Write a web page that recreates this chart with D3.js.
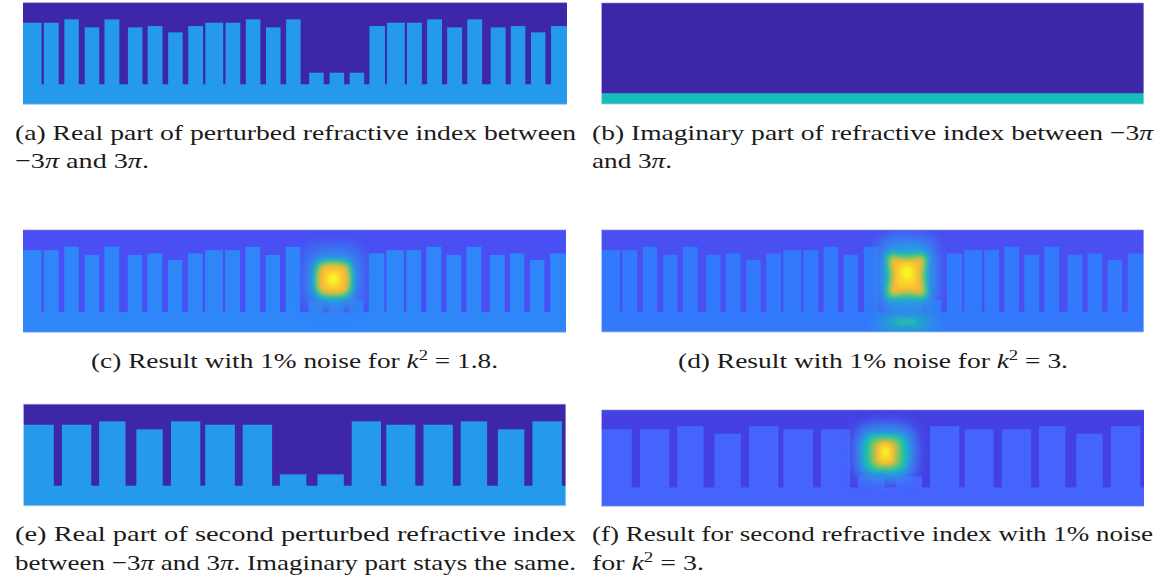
<!DOCTYPE html>
<html>
<head>
<meta charset="utf-8">
<script src="https://d3js.org/d3.v7.min.js"></script>
<style>
  html, body { margin: 0; background: #fff; }
  svg { display: block; }
  text { font-family: "Liberation Serif", serif; font-size: 22px; fill: #1a1a1a; }
</style>
</head>
<body>
<svg id="chart" width="1166" height="580"></svg>
<script>
// x is in units of pi (-3 to 3), y is the fraction of the panel height from the bottom
var grating1Left  = [-3, -2.77, -2.544, -2.319, -2.101, -1.843, -1.625, -1.399, -1.178, -0.989, -0.767, -0.542, -0.32, -0.098, 0.156, 0.382, 0.603, 0.821, 1.014, 1.235, 1.457, 1.678, 1.9, 2.158, 2.38, 2.602, 2.824];
var grating1Right = [-2.795, -2.606, -2.384, -2.159, -1.937, -1.683, -1.461, -1.239, -1.014, -0.792, -0.603, -0.382, -0.16, 0.062, 0.316, 0.542, 0.763, 0.993, 1.211, 1.399, 1.621, 1.843, 2.064, 2.323, 2.54, 2.762, 3];
var grating1Top   = [0.803, 0.803, 0.836, 0.757, 0.836, 0.757, 0.77, 0.708, 0.77, 0.803, 0.803, 0.836, 0.757, 0.836, 0.311, 0.311, 0.311, 0.77, 0.803, 0.803, 0.836, 0.757, 0.836, 0.757, 0.77, 0.708, 0.77];

var grating2Left  = [-3, -2.576, -2.164, -1.752, -1.369, -0.99, -0.575, -0.163, 0.253, 0.632, 1.015, 1.427, 1.839, 2.25, 2.633];
var grating2Right = [-2.666, -2.251, -1.872, -1.46, -1.044, -0.661, -0.249, 0.13, 0.545, 0.957, 1.336, 1.752, 2.131, 2.543, 2.959];
var grating2Top   = [0.799, 0.799, 0.832, 0.753, 0.832, 0.799, 0.799, 0.309, 0.309, 0.832, 0.799, 0.799, 0.832, 0.753, 0.832];

var baseTop = 0.197;

// blob rings: [colour, centre x, centre y, half width, half height, waist]
var blobC = [
  ["#3a78f4", 0.43, 0.53, 0.37, 0.36, 1.0],
  ["#2c9ce0", 0.43, 0.52, 0.26, 0.25, 1.0],
  ["#19bdb4", 0.43, 0.52, 0.225, 0.195, 1.0],
  ["#7cc660", 0.43, 0.52, 0.19, 0.165, 1.0],
  ["#f5b83a", 0.43, 0.52, 0.165, 0.145, 1.0],
  ["#fbd42c", 0.43, 0.52, 0.1, 0.095, 1.0],
  ["#f9f820", 0.43, 0.52, 0.05, 0.05, 1.0]
];
var blobD = [
  ["#3a7ef4", 0.38, 0.55, 0.38, 0.44, 1.0],
  ["#2c9ce0", 0.38, 0.55, 0.29, 0.33, 1.0],
  ["#19bdb4", 0.38, 0.55, 0.265, 0.27, 0.85],
  ["#7cc660", 0.38, 0.55, 0.235, 0.235, 0.82],
  ["#f5b83a", 0.38, 0.55, 0.205, 0.205, 0.76],
  ["#fbd42c", 0.38, 0.56, 0.115, 0.125, 0.95],
  ["#f9f820", 0.38, 0.58, 0.05, 0.06, 1.0]
];
var blobDLower = [
  ["#2f90e4", 0.37, 0.07, 0.38, 0.11, 1.0],
  ["#19b4c0", 0.37, 0.09, 0.24, 0.05, 1.0],
  ["#3cc896", 0.37, 0.1, 0.12, 0.014, 1.0]
];
var blobF = [
  ["#3f78f8", 0.14, 0.55, 0.38, 0.34, 1.0],
  ["#2c9ce0", 0.14, 0.55, 0.3, 0.26, 1.0],
  ["#19bdb4", 0.14, 0.55, 0.25, 0.2, 1.0],
  ["#7cc660", 0.14, 0.55, 0.18, 0.165, 1.0],
  ["#f5b83a", 0.14, 0.55, 0.115, 0.125, 1.0],
  ["#fbd42c", 0.14, 0.55, 0.065, 0.09, 1.0],
  ["#f9f820", 0.14, 0.56, 0.027, 0.05, 1.0]
];

var panelNames = ["a", "b", "c", "d", "e", "f"];
var panelX0    = [23, 601.6, 23, 601.6, 23.6, 601.6];
var panelX1    = [567, 1143.6, 566, 1143.6, 565.6, 1144];
var panelY0    = [2.7, 3, 230, 230, 404.3, 410];
var panelY1    = [104.3, 104, 332.3, 332, 505.7, 506.3];
var backColour = ["#3e26a8", "#3e26a8", "#4850f3", "#484ff0", "#3e26a8", "#453fe2"];
var barColour  = ["#259aea", "#19bdb9", "#2e86f8", "#3079fb", "#259aea", "#4464fd"];
var gratings   = [1, 0, 1, 1, 2, 2];
var blobs      = [[], [], [blobC], [blobD, blobDLower], [], [blobF]];

// caption lines: "|" marks italic pieces, "^" a superscript
var captionX0 = [15, 15, 592, 592, 91, 678, 15, 15, 592, 592];
var captionX1 = [576, 149, 1153, 672, 498, 1068, 576, 576, 1153, 704];
var captionY  = [140, 168, 140, 168, 368, 368, 541, 570, 541, 570];
var captionText = [
  "(a) Real part of perturbed refractive index between",
  "\u22123|π| and 3|π|.",
  "(b) Imaginary part of refractive index between \u22123|π|",
  "and 3|π|.",
  "(c) Result with 1% noise for |k|^2^ = 1.8.",
  "(d) Result with 1% noise for |k|^2^ = 3.",
  "(e) Real part of second perturbed refractive index",
  "between \u22123|π| and 3|π|. Imaginary part stays the same.",
  "(f) Result for second refractive index with 1% noise",
  "for |k|^2^ = 3."
];

var svg = d3.select("#chart");
var defs = svg.append("defs");

[0.45, 2.2, 5].forEach(function (s, i) {
  defs.append("filter").attr("id", "blur" + i)
    .attr("x", "-100%").attr("y", "-100%").attr("width", "300%").attr("height", "300%")
    .append("feGaussianBlur").attr("stdDeviation", s);
});

var ringLine = d3.line().curve(d3.curveCatmullRomClosed.alpha(0.5));

function drawPanel(i) {
  var x = d3.scaleLinear().domain([-3, 3]).range([panelX0[i], panelX1[i]]);
  var y = d3.scaleLinear().domain([0, 1]).range([panelY1[i], panelY0[i]]);

  defs.append("clipPath").attr("id", "clip" + panelNames[i])
    .append("rect")
    .attr("x", x(-3)).attr("y", y(1))
    .attr("width", x(3) - x(-3)).attr("height", y(0) - y(1));

  var g = svg.append("g").attr("clip-path", "url(#clip" + panelNames[i] + ")");
  var inner = g.append("g").attr("filter", "url(#blur0)");

  inner.append("rect")
    .attr("x", x(-3) - 3).attr("y", y(1) - 3)
    .attr("width", x(3) - x(-3) + 6).attr("height", y(0) - y(1) + 6)
    .attr("fill", backColour[i]);

  var left = [], right = [], top = [];
  if (gratings[i] === 1) { left = grating1Left; right = grating1Right; top = grating1Top; }
  if (gratings[i] === 2) { left = grating2Left; right = grating2Right; top = grating2Top; }

  inner.selectAll("rect.bar").data(d3.range(left.length)).enter().append("rect")
    .attr("class", "bar")
    .attr("x", function (k) { return x(left[k]) - (k === 0 ? 3 : 0); })
    .attr("y", function (k) { return y(top[k]); })
    .attr("width", function (k) { return x(right[k]) - x(left[k]) + (k === 0 ? 3 : 0); })
    .attr("height", function (k) { return y(0) - y(top[k]); })
    .attr("fill", barColour[i]);

  var baseline = gratings[i] === 0 ? 0.107 : baseTop;
  inner.append("rect")
    .attr("x", x(-3) - 3).attr("y", y(baseline))
    .attr("width", x(3) - x(-3) + 6).attr("height", y(0) - y(baseline) + 3)
    .attr("fill", barColour[i]);

  blobs[i].forEach(function (rings) {
    rings.forEach(function (r, n) {
      // corners pulled in a little so a waist of 1 gives a rounded square
      var hw = r[3], hh = r[4], w = r[5], cw = hw * 0.82, ch = hh * 0.82;
      var pts = [
        [r[1] - cw, r[2] + ch], [r[1], r[2] + hh * w], [r[1] + cw, r[2] + ch], [r[1] + hw * w, r[2]],
        [r[1] + cw, r[2] - ch], [r[1], r[2] - hh * w], [r[1] - cw, r[2] - ch], [r[1] - hw * w, r[2]]
      ].map(function (p) { return [x(p[0]), y(p[1])]; });
      g.append("path")
        .attr("d", ringLine(pts))
        .attr("fill", r[0])
        .attr("opacity", n === 0 ? 0.7 : 1)
        .attr("filter", "url(#blur" + (n < 2 ? 2 : 1) + ")");
    });
  });

  // thin pale edge along the top and bottom of each image
  svg.append("line").attr("x1", x(-3)).attr("x2", x(3)).attr("y1", y(0)).attr("y2", y(0))
    .attr("stroke", "#a9c4f0").attr("stroke-width", 0.8);
  svg.append("line").attr("x1", x(-3)).attr("x2", x(3)).attr("y1", y(1)).attr("y2", y(1))
    .attr("stroke", "#8f86d6").attr("stroke-width", 0.6);
}

d3.range(panelNames.length).forEach(drawPanel);

captionText.forEach(function (line, i) {
  var t = svg.append("text")
    .attr("x", captionX0[i]).attr("y", captionY[i])
    .attr("textLength", captionX1[i] - captionX0[i])
    .attr("lengthAdjust", "spacingAndGlyphs")
    .attr("xml:space", "preserve");
  line.split("|").forEach(function (piece, n) {
    if (n % 2 === 1) {
      t.append("tspan").style("font-style", "italic").text(piece);
    } else if (piece.indexOf("^") === 0) {
      var bits = piece.split("^");
      t.append("tspan").attr("dy", -8).style("font-size", "15px").text(bits[1]);
      t.append("tspan").attr("dy", 8).text(bits[2]);
    } else {
      t.append("tspan").text(piece);
    }
  });
});
</script>
</body>
</html>
